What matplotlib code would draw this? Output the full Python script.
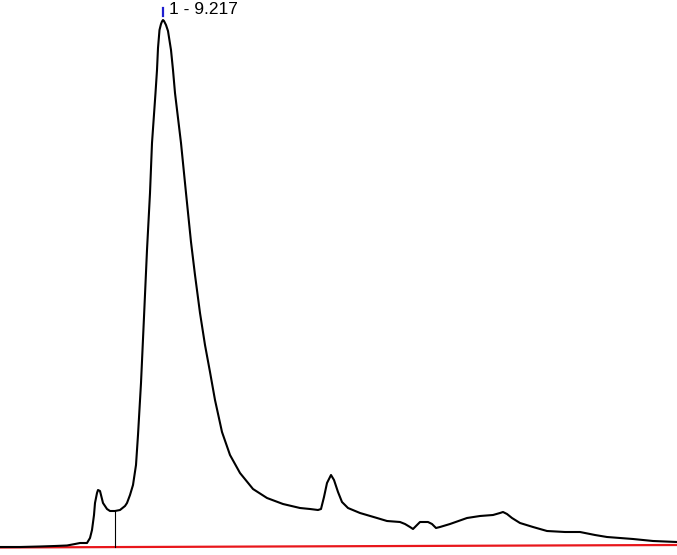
import matplotlib
matplotlib.use("Agg")
import matplotlib.pyplot as plt

# retention time (min) and detector signal
time_min = [5.957, 6.357, 6.757, 7.057, 7.297, 7.457, 7.557, 7.697, 7.757, 7.797,
            7.837, 7.857, 7.897, 7.917, 7.957, 8.017, 8.097, 8.157, 8.257, 8.357,
            8.457, 8.497, 8.557, 8.617, 8.677, 8.717, 8.777, 8.837, 8.897, 8.957,
            8.997, 9.067, 9.097, 9.117, 9.147, 9.177, 9.197, 9.217, 9.237, 9.277,
            9.317, 9.377, 9.417, 9.457, 9.577, 9.677, 9.777, 9.857, 9.957, 10.057,
            10.157, 10.257, 10.397, 10.557, 10.757, 11.017, 11.297, 11.617, 11.957, 12.157,
            12.317, 12.377, 12.437, 12.497, 12.577, 12.637, 12.717, 12.797, 12.917, 13.157,
            13.497, 13.697, 13.957, 14.057, 14.157, 14.217, 14.277, 14.357, 14.517, 14.597,
            14.677, 14.757, 14.957, 15.297, 15.557, 15.817, 15.957, 16.017, 16.097, 16.197,
            16.357, 16.617, 16.897, 17.257, 17.557, 17.857, 18.097, 18.617, 19.017, 19.497]
signal = [0, 0, 0.5, 1, 1.5, 3, 4, 4, 9, 17,
          32, 44, 54, 57, 56, 44, 38, 36, 36, 37,
          41, 44, 52, 62, 82, 112, 164, 230, 297, 354,
          404, 454, 477, 499, 517, 523, 525.5, 527, 526, 522,
          516, 497, 477, 454, 404, 354, 305, 272, 234, 202,
          175, 147, 115, 92, 74, 58, 49, 43, 39, 38,
          37, 38, 50, 64, 72, 67, 55, 45, 39, 34,
          29, 26, 25, 23, 20, 18, 21, 25, 25, 23,
          19, 20, 23, 29, 31, 32, 34, 35, 33, 29,
          24, 20, 16, 15, 15, 12, 10, 8, 6, 5]

baseline_t = [5.957, 19.497]
baseline_y = [-0.5, 2.0]

peak_rt = 9.217
peak_label = "1 - 9.217"
drop_rt = 8.257
drop_top = 36

fig = plt.figure(figsize=(6.77, 5.55), dpi=100)
ax = fig.add_axes([0, 0, 1, 1])

ax.plot(baseline_t, baseline_y, color="#e8161b", lw=1.6, zorder=1)
ax.plot(time_min, signal, color="black", lw=1.5, solid_joinstyle="round", zorder=2)
ax.plot([drop_rt, drop_rt], [0, drop_top], color="black", lw=0.8, zorder=2)

ax.plot([peak_rt, peak_rt], [531, 539], color="#1f1fd0", lw=1.6)
ax.text(peak_rt + 0.12, 533, peak_label, fontsize=12.5, family="Liberation Sans",
        ha="left", va="baseline")

ax.set_xlim(5.957, 5.957 + 677 / 50)
ax.set_ylim(-8, 547)
ax.axis("off")

fig.savefig("out.png", dpi=100)
